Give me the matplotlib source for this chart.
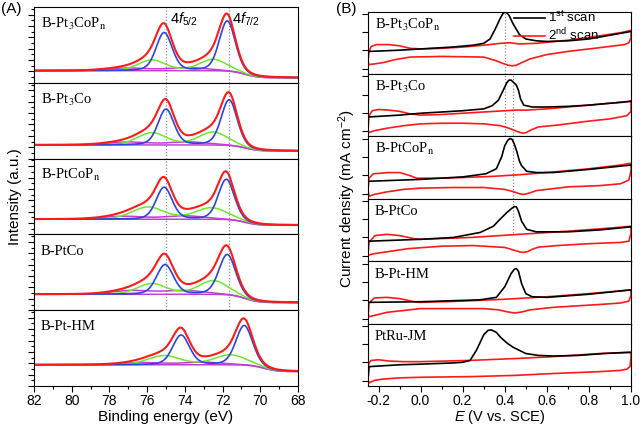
import numpy as np
import matplotlib
matplotlib.use("Agg")
import matplotlib.pyplot as plt
from matplotlib.ticker import MultipleLocator, FixedLocator

plt.rcParams['font.family'] = ['Liberation Sans', 'DejaVu Sans']
plt.rcParams['mathtext.fontset'] = 'custom'
plt.rcParams['mathtext.rm'] = 'Liberation Sans'
plt.rcParams['mathtext.it'] = 'Liberation Sans:italic'

# ---------------- (A) Pt 4f XPS fit parameters ----------------
xps_names = [r'B-Pt$_\mathrm{3}$CoP$_\mathrm{n}$', r'B-Pt$_\mathrm{3}$Co', r'B-PtCoP$_\mathrm{n}$', 'B-PtCo', 'B-Pt-HM']
# Pt(0) doublet: 4f5/2, 4f7/2
blue_center = [[75.10, 71.75], [75.00, 71.65], [75.10, 71.80], [75.05, 71.75], [74.20, 70.85]]
blue_height = [[0.50, 0.66], [0.47, 0.60], [0.42, 0.53], [0.39, 0.53], [0.39, 0.52]]
blue_fwhm = [1.0, 1.0, 1.0, 1.05, 1.05]
# Pt(II) doublet
green_center = [[75.75, 72.50], [75.75, 72.50], [75.95, 72.60], [75.75, 72.50], [75.10, 71.60]]
green_height = [[0.14, 0.15], [0.16, 0.17], [0.16, 0.15], [0.14, 0.18], [0.12, 0.13]]
green_fwhm = [1.7, 1.8, 2.0, 1.8, 2.0]
# Pt(IV) doublet
violet_center = [[77.0, 73.8], [77.0, 73.8], [77.2, 74.0], [76.8, 74.0], [76.2, 73.0]]
violet_height = [[0.035, 0.04], [0.04, 0.04], [0.04, 0.045], [0.05, 0.05], [0.03, 0.035]]
violet_fwhm = [2.5, 2.5, 2.5, 2.5, 2.5]
# background levels (high BE side, low BE side) and step position
bg_high = [0.16, 0.18, 0.20, 0.21, 0.28]
bg_low = [0.066, 0.10, 0.12, 0.10, 0.19]
bg_step = [70.8, 70.8, 70.8, 70.8, 69.8]
peak_marks = [75.0, 71.65]

# ---------------- (B) CV curves ----------------
cv_names = [r'B-Pt$_\mathrm{3}$CoP$_\mathrm{n}$', r'B-Pt$_\mathrm{3}$Co', r'B-PtCoP$_\mathrm{n}$', 'B-PtCo', 'B-Pt-HM', 'PtRu-JM']

scan1_E = [
    [-0.25, -0.1, 0.0, 0.15, 0.25, 0.30, 0.33, 0.355, 0.377, 0.39, 0.40, 0.41, 0.42, 0.44, 0.47, 0.50, 0.55, 0.6, 0.7, 0.8, 0.9, 1.0],
    [-0.25, -0.1, 0.0, 0.2, 0.3, 0.34, 0.37, 0.39, 0.41, 0.42, 0.43, 0.44, 0.455, 0.465, 0.475, 0.49, 0.53, 0.6, 0.7, 0.8, 0.9, 1.0],
    [-0.25, 0.0, 0.2, 0.31, 0.36, 0.385, 0.40, 0.415, 0.425, 0.435, 0.445, 0.458, 0.47, 0.48, 0.504, 0.55, 0.63, 0.8, 1.0],
    [-0.25, 0.0, 0.156, 0.283, 0.346, 0.377, 0.41, 0.435, 0.445, 0.455, 0.465, 0.48, 0.504, 0.55, 0.7, 0.85, 1.0],
    [-0.25, 0.0, 0.28, 0.36, 0.40, 0.43, 0.445, 0.455, 0.465, 0.48, 0.50, 0.53, 0.6, 0.8, 1.0],
    [-0.25, -0.245, -0.1, 0.0, 0.156, 0.2, 0.235, 0.265, 0.30, 0.32, 0.335, 0.36, 0.38, 0.41, 0.44, 0.50, 0.56, 0.63, 0.75, 0.87, 1.0],
]
scan1_j = [
    [0.36, 0.38, 0.40, 0.43, 0.46, 0.49, 0.56, 0.72, 0.88, 0.96, 0.99, 0.98, 0.94, 0.80, 0.63, 0.56, 0.53, 0.52, 0.53, 0.56, 0.62, 0.68],
    [0.31, 0.34, 0.37, 0.41, 0.44, 0.49, 0.58, 0.72, 0.86, 0.90, 0.90, 0.87, 0.82, 0.74, 0.60, 0.50, 0.47, 0.47, 0.48, 0.50, 0.53, 0.56],
    [0.28, 0.31, 0.35, 0.40, 0.48, 0.67, 0.85, 0.94, 0.965, 0.95, 0.88, 0.75, 0.60, 0.53, 0.44, 0.42, 0.42, 0.47, 0.54],
    [0.32, 0.35, 0.38, 0.46, 0.56, 0.67, 0.78, 0.85, 0.875, 0.87, 0.80, 0.64, 0.51, 0.47, 0.47, 0.50, 0.55],
    [0.34, 0.35, 0.38, 0.42, 0.59, 0.80, 0.87, 0.88, 0.84, 0.64, 0.48, 0.43, 0.42, 0.47, 0.54],
    [0.10, 0.31, 0.34, 0.35, 0.37, 0.38, 0.41, 0.57, 0.82, 0.89, 0.90, 0.86, 0.78, 0.69, 0.62, 0.52, 0.49, 0.48, 0.49, 0.52, 0.54],
]
# second scan: closed loop, anodic branch then cathodic branch
scan2_E = [
    [-0.25, -0.245, -0.235, -0.21, -0.15, -0.10, -0.05, 0.0, 0.1, 0.2, 0.3, 0.38, 0.42, 0.47, 0.55, 0.7, 0.85, 0.95, 0.99, 1.0,
     1.0, 0.99, 0.97, 0.85, 0.7, 0.6, 0.52, 0.48, 0.455, 0.435, 0.415, 0.39, 0.36, 0.3, 0.1, -0.05, -0.12, -0.18, -0.22, -0.245, -0.25],
    [-0.25, -0.245, -0.23, -0.2, -0.15, -0.1, -0.05, 0.0, 0.1, 0.2, 0.3, 0.4, 0.45, 0.5, 0.6, 0.7, 0.8, 0.9, 0.97, 1.0,
     1.0, 0.98, 0.9, 0.79, 0.65, 0.56, 0.53, 0.505, 0.49, 0.475, 0.45, 0.42, 0.38, 0.3, 0.2, 0.1, 0.0, -0.08, -0.16, -0.22, -0.245, -0.25],
    [-0.25, -0.245, -0.225, -0.15, -0.1, -0.05, -0.02, 0.1, 0.2, 0.35, 0.47, 0.6, 0.8, 0.95, 1.0,
     1.0, 0.99, 0.95, 0.85, 0.7, 0.6, 0.55, 0.52, 0.50, 0.485, 0.465, 0.44, 0.40, 0.3, 0.15, 0.0, -0.08, -0.16, -0.22, -0.245, -0.25],
    [-0.25, -0.245, -0.217, -0.16, -0.1, -0.03, 0.0, 0.24, 0.47, 0.7, 0.9, 1.0,
     1.0, 0.99, 0.95, 0.8, 0.65, 0.56, 0.53, 0.51, 0.49, 0.47, 0.44, 0.40, 0.25, 0.1, -0.06, -0.16, -0.22, -0.245, -0.25],
    [-0.25, -0.245, -0.22, -0.16, -0.1, -0.03, 0.0, 0.2, 0.4, 0.6, 0.8, 1.0,
     1.0, 0.99, 0.95, 0.87, 0.63, 0.52, 0.48, 0.445, 0.41, 0.37, 0.3, 0.1, 0.0, -0.16, -0.245, -0.25],
    [-0.25, -0.247, -0.235, -0.2, -0.15, -0.08, 0.0, 0.235, 0.45, 0.63, 0.85, 0.99, 1.0,
     1.0, 0.995, 0.98, 0.95, 0.85, 0.63, 0.45, 0.235, 0.0, -0.1, -0.18, -0.22, -0.245, -0.25],
]
scan2_j = [
    [0.20, 0.36, 0.44, 0.47, 0.47, 0.45, 0.41, 0.40, 0.41, 0.43, 0.46, 0.49, 0.50, 0.48, 0.49, 0.54, 0.61, 0.66, 0.69, 0.70,
     0.58, 0.50, 0.47, 0.42, 0.36, 0.31, 0.24, 0.18, 0.14, 0.13, 0.14, 0.17, 0.21, 0.27, 0.28, 0.27, 0.23, 0.18, 0.16, 0.15, 0.20],
    [0.10, 0.33, 0.41, 0.43, 0.42, 0.40, 0.36, 0.34, 0.35, 0.37, 0.39, 0.41, 0.42, 0.42, 0.44, 0.47, 0.50, 0.53, 0.55, 0.57,
     0.40, 0.33, 0.28, 0.24, 0.18, 0.15, 0.11, 0.065, 0.05, 0.06, 0.09, 0.13, 0.17, 0.20, 0.21, 0.21, 0.20, 0.17, 0.13, 0.09, 0.06, 0.10],
    [0.14, 0.33, 0.40, 0.42, 0.42, 0.37, 0.33, 0.33, 0.34, 0.36, 0.385, 0.42, 0.48, 0.54, 0.57,
     0.45, 0.30, 0.24, 0.21, 0.19, 0.15, 0.13, 0.095, 0.075, 0.07, 0.085, 0.115, 0.15, 0.18, 0.18, 0.17, 0.15, 0.11, 0.07, 0.04, 0.14],
    [0.12, 0.30, 0.41, 0.43, 0.41, 0.36, 0.35, 0.38, 0.43, 0.48, 0.53, 0.56,
     0.45, 0.32, 0.30, 0.28, 0.25, 0.225, 0.19, 0.155, 0.14, 0.15, 0.18, 0.22, 0.25, 0.24, 0.20, 0.15, 0.12, 0.10, 0.12],
    [0.10, 0.33, 0.41, 0.42, 0.40, 0.35, 0.34, 0.36, 0.39, 0.43, 0.48, 0.54,
     0.45, 0.36, 0.33, 0.31, 0.26, 0.22, 0.185, 0.17, 0.19, 0.22, 0.24, 0.24, 0.24, 0.18, 0.11, 0.15],
    [0.10, 0.36, 0.41, 0.42, 0.40, 0.39, 0.39, 0.41, 0.44, 0.47, 0.52, 0.54, 0.53,
     0.45, 0.31, 0.27, 0.25, 0.23, 0.20, 0.17, 0.15, 0.14, 0.13, 0.11, 0.09, 0.05, 0.10],
]
cv_marks = [[0.40], [0.40, 0.437], [0.437], [0.437], [], []]


def peak(x, c, h, fwhm, eta=0.25):
    # pseudo-Voigt line shape used for the XPS components
    s = fwhm / 2.3548
    g = np.exp(-(x - c) ** 2 / (2 * s ** 2))
    lo = 1.0 / (1.0 + ((x - c) / (fwhm / 2)) ** 2)
    return h * ((1 - eta) * g + eta * lo)


W, H = 640, 426
fig = plt.figure(figsize=(6.4, 4.26), dpi=100)

RED = '#ff1a1a'
BLUE = '#2b45e0'
GREEN = '#6ee82a'
VIOLET = '#c13fd6'
DOT = '#8a8aa8'
SERIF = 'Liberation Serif'

# ---------------- panel A ----------------
a_left, a_right, a_top, a_bot = 34, 298, 7, 386
n = len(xps_names)
ph = (a_bot - a_top) / n
be = np.linspace(68, 82, 700)
axes_a = []
for i in range(n):
    y0 = a_bot - (n - i) * ph
    ax = fig.add_axes([a_left / W, 1 - (y0 + ph) / H, (a_right - a_left) / W, ph / H])
    axes_a.append(ax)
    bg = bg_low[i] + (bg_high[i] - bg_low[i]) / (1 + np.exp(-(be - bg_step[i]) / 0.35))
    b = sum(peak(be, c, h, blue_fwhm[i]) for c, h in zip(blue_center[i], blue_height[i]))
    g = sum(peak(be, c, h, green_fwhm[i]) for c, h in zip(green_center[i], green_height[i]))
    v = sum(peak(be, c, h, violet_fwhm[i], 0) for c, h in zip(violet_center[i], violet_height[i]))
    ax.plot(be, bg, color=VIOLET, lw=1.1)
    ax.plot(be, bg + v, color=VIOLET, lw=1.1)
    ax.plot(be, bg + g, color=GREEN, lw=1.1)
    ax.plot(be, bg + b, color=BLUE, lw=1.2)
    ax.plot(be, bg + b + g + v, color=RED, lw=1.5)
    if i < 4:
        for mk in peak_marks:
            ax.axvline(mk, color=DOT, lw=0.9, ls=(0, (1, 1.5)), zorder=0)
    ax.set_xlim(82, 68)
    ax.set_ylim(0, 1)
    ax.xaxis.set_major_locator(MultipleLocator(2))
    ax.xaxis.set_minor_locator(MultipleLocator(1))
    ax.yaxis.set_major_locator(MultipleLocator(0.15))
    ax.yaxis.set_minor_locator(MultipleLocator(0.075))
    ax.tick_params(which='both', direction='out', top=False, right=False, labelleft=False)
    ax.tick_params(which='major', length=4, width=0.8)
    ax.tick_params(which='minor', length=2, width=0.8)
    ax.tick_params(axis='x', labelsize=10, pad=2)
    if i < n - 1:
        ax.tick_params(axis='x', labelbottom=False)
    ax.text(0.025, 0.78, xps_names[i], transform=ax.transAxes, family=SERIF, math_fontfamily='stix',
            fontsize=10.5, va='center', ha='left')
    for s in ax.spines.values():
        s.set_linewidth(0.8)

axes_a[0].text(74.8, 0.84, r'4$\mathit{f}_{5/2}$', fontsize=10.5, va='center')
axes_a[0].text(71.5, 0.84, r'4$\mathit{f}_{7/2}$', fontsize=10.5, va='center')
axes_a[-1].set_xlabel('Binding energy (eV)', fontsize=11, labelpad=1)
fig.text(15 / W, 1 - ((a_top + a_bot) / 2) / H, 'Intensity (a.u.)', rotation=90,
         fontsize=11, va='center', ha='center')
fig.text(1 / W, 1 - 2 / H, '(A)', fontsize=11, va='top', ha='left')

# ---------------- panel B ----------------
b_left, b_right, b_top, b_bot = 368, 631, 11.5, 386
m = len(cv_names)
pb = (b_bot - b_top) / m
axes_b = []
for i in range(m):
    y0 = b_bot - (m - i) * pb
    ax = fig.add_axes([b_left / W, 1 - (y0 + pb) / H, (b_right - b_left) / W, pb / H])
    axes_b.append(ax)
    ax.plot(scan2_E[i], scan2_j[i], color=RED, lw=1.2, label=r'2$^\mathrm{nd}$ scan')
    ax.plot(scan1_E[i], scan1_j[i], color='black', lw=1.2, label=r'1$^\mathrm{st}$ scan')
    for e in cv_marks[i]:
        ymin = 0.45 if i == 3 else 0
        ax.axvline(e, ymin=ymin, color=DOT, lw=0.9, ls=(0, (1, 1.5)), zorder=0)
    ax.set_xlim(-0.25, 1.0)
    ax.set_ylim(0, 1)
    ax.xaxis.set_major_locator(MultipleLocator(0.2))
    ax.xaxis.set_minor_locator(MultipleLocator(0.1))
    ax.yaxis.set_major_locator(FixedLocator([0.08, 0.38, 0.67, 0.96]))
    ax.tick_params(which='both', direction='out', top=False, right=False, labelleft=False)
    ax.tick_params(which='major', length=4, width=0.8)
    ax.tick_params(which='minor', length=2, width=0.8)
    ax.tick_params(axis='x', labelsize=10, pad=2)
    if i < m - 1:
        ax.tick_params(axis='x', labelbottom=False)
    ax.text(0.027, 0.79, cv_names[i], transform=ax.transAxes, family=SERIF, math_fontfamily='stix',
            fontsize=10.5, va='center', ha='left')
    for s in ax.spines.values():
        s.set_linewidth(0.8)

hd, lb = axes_b[0].get_legend_handles_labels()
axes_b[0].legend(hd[::-1], lb[::-1], loc='upper right', bbox_to_anchor=(0.88, 1.02), frameon=False,
                 fontsize=9.5, handlelength=2.3, handletextpad=0.3, labelspacing=0.12,
                 borderaxespad=0, borderpad=0)
axes_b[-1].set_xticklabels(['', '-0.2', '0.0', '0.2', '0.4', '0.6', '0.8', '1.0'])
axes_b[-1].set_xlabel(r'$\mathit{E}$ (V vs. SCE)', fontsize=10.5, labelpad=0)
fig.text(347 / W, 1 - ((b_top + b_bot) / 2) / H, r'Current density (mA cm$^{-2}$)', rotation=90,
         fontsize=11, va='center', ha='center')
fig.text(336 / W, 1 - 2 / H, '(B)', fontsize=11, va='top', ha='left')

fig.savefig('out.png', dpi=100)
